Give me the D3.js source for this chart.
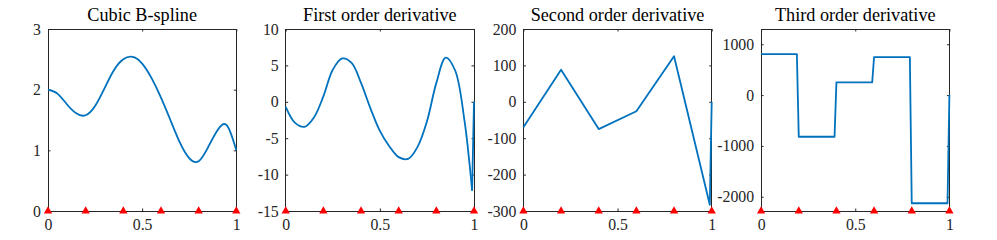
<!DOCTYPE html>
<html>
<head>
<meta charset="utf-8">
<title>Cubic B-spline and derivatives</title>
<script src="https://d3js.org/d3.v7.min.js"></script>
<style>
  body { margin: 0; background: #fff; }
</style>
</head>
<body>
<div id="chart"></div>
<script>
// knots (red triangles)
const knots = [0, 0.2, 0.4, 0.6, 0.8, 1];

// panel 1: the spline itself, every 0.05
const splineX = [0, 0.05, 0.1, 0.15, 0.2, 0.25, 0.3, 0.35, 0.4, 0.45, 0.5, 0.55, 0.6, 0.65, 0.7, 0.75, 0.8, 0.85, 0.9, 0.95, 1];
const splineY = [2.0, 1.935, 1.76, 1.61, 1.578, 1.73, 2.02, 2.32, 2.5, 2.54, 2.43, 2.19, 1.87, 1.5, 1.13, 0.87, 0.82, 1.05, 1.33, 1.41, 1.0];

// panel 2: first derivative (last sample drops back to 0 at x = 1)
const firstX = [0, 0.05, 0.1, 0.15, 0.2, 0.25, 0.3, 0.35, 0.4, 0.45, 0.5, 0.55, 0.6, 0.65, 0.7, 0.75, 0.8, 0.85, 0.9, 0.95, 0.975, 0.99];
const firstY = [-0.69, -2.9, -3.43, -2.15, 0.75, 4.4, 5.95, 5.35, 2.6, -0.9, -4.0, -6.1, -7.6, -7.85, -6.2, -2.7, 2.6, 6.07, 4.3, -2.7, -8.2, -12.2];
const firstEnd = 0;

// panel 3: second derivative, piecewise linear
const secondX = [0, 0.2, 0.4, 0.6, 0.8, 0.99, 1];
const secondY = [-70, 88, -75, -26, 125, -283, 0];

// panel 4: third derivative, constant on each knot interval
const thirdLevels = [805, -819, 249, 747, -2128];
const thirdEnd = 0;
const sampleStep = 0.01;

const titles = ["Cubic B-spline", "First order derivative", "Second order derivative", "Third order derivative"];
const yDomains = [[0, 3], [-15, 10], [-300, 200], [-2280, 1300]];
const yTicks = [[0, 1, 2, 3], [-15, -10, -5, 0, 5, 10], [-300, -200, -100, 0, 100, 200], [-2000, -1000, 0, 1000]];
const xTicks = [0, 0.5, 1];

const serif = "'Liberation Serif', 'DejaVu Serif', serif";

const zip = (xs, ys) => xs.map((x, i) => [x, ys[i]]);

// build point lists for each panel
const thirdPts = [];
thirdLevels.forEach((v, i) => {
  thirdPts.push([knots[i], v]);
  thirdPts.push([knots[i + 1] - sampleStep, v]);
});
thirdPts.push([1, thirdEnd]);

const firstPts = zip(firstX, firstY);
const panels = [
  { smooth: zip(splineX, splineY), curve: d3.curveNatural, straight: [] },
  { smooth: firstPts, curve: d3.curveCatmullRom.alpha(0.5), straight: [firstPts[firstPts.length - 1], [1, firstEnd]] },
  { smooth: [], straight: zip(secondX, secondY) },
  { smooth: [], straight: thirdPts }
];

const width = 997, height = 240;
const left0 = 48, step = 237.7, pw = 188.3;
const plotTop = 29, plotBottom = 211;

const svg = d3.select("#chart").append("svg")
  .attr("width", width)
  .attr("height", height);

panels.forEach(function (p, i) {
  const h = plotBottom - plotTop;
  const x = d3.scaleLinear().domain([0, 1]).range([0, pw]);
  const y = d3.scaleLinear().domain(yDomains[i]).range([h, 0]);
  const g = svg.append("g").attr("transform", "translate(" + (left0 + i * step) + "," + plotTop + ")");

  // ticks, pointing inward on all four sides
  g.append("g").call(d3.axisLeft(y).tickValues(yTicks[i]).tickSize(-2.5).tickSizeOuter(0).tickPadding(7).tickFormat(d => String(d)));
  g.append("g").attr("transform", "translate(" + pw + ",0)")
    .call(d3.axisRight(y).tickValues(yTicks[i]).tickSize(-2.5).tickSizeOuter(0).tickFormat(""));
  g.append("g").attr("transform", "translate(0," + h + ")")
    .call(d3.axisBottom(x).tickValues(xTicks).tickSize(-2.5).tickSizeOuter(0).tickPadding(8).tickFormat(d => String(d)));
  g.append("g").call(d3.axisTop(x).tickValues(xTicks).tickSize(-2.5).tickSizeOuter(0).tickFormat(""));
  g.selectAll(".domain").remove();
  g.selectAll(".tick line").attr("stroke", "#262626");
  g.selectAll(".tick text")
    .attr("fill", "#262626")
    .style("font-family", serif)
    .style("font-size", "15.8px");

  g.append("rect")
    .attr("width", pw).attr("height", h)
    .attr("fill", "none").attr("stroke", "#262626").attr("stroke-width", 1)
    .attr("shape-rendering", "crispEdges");

  const flatLine = d3.line().x(d => x(d[0])).y(d => y(d[1]));

  if (p.smooth.length)
    g.append("path").attr("d", d3.line().x(d => x(d[0])).y(d => y(d[1])).curve(p.curve)(p.smooth))
      .attr("fill", "none").attr("stroke", "#0072BD").attr("stroke-width", 1.8).attr("stroke-linejoin", "round");
  if (p.straight.length)
    g.append("path").attr("d", flatLine(p.straight))
      .attr("fill", "none").attr("stroke", "#0072BD").attr("stroke-width", 1.8).attr("stroke-linejoin", "round");

  g.selectAll(".knot").data(knots).enter().append("path")
    .attr("class", "knot")
    .attr("transform", d => "translate(" + x(d) + "," + y(yDomains[i][0]) + ")")
    .attr("d", d3.symbol().type(d3.symbolTriangle).size(30))
    .attr("fill", "#ff0000");

  svg.append("text")
    .attr("x", left0 + i * step + pw / 2)
    .attr("y", 20.7)
    .attr("text-anchor", "middle")
    .attr("fill", "#000")
    .style("font-family", serif)
    .style("font-size", "18.2px")
    .text(titles[i]);
});
</script>
</body>
</html>
